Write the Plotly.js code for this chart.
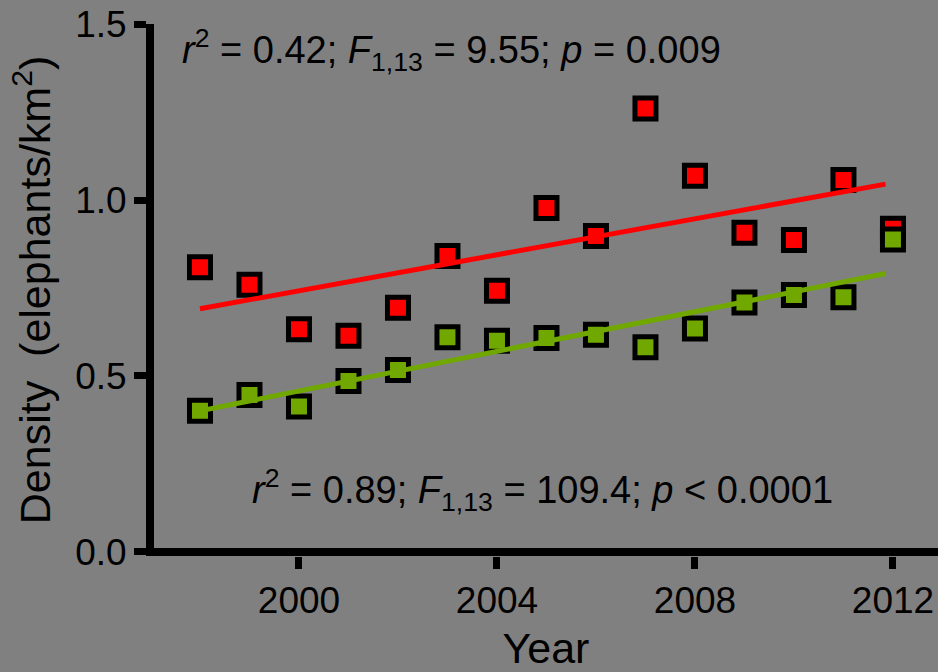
<!DOCTYPE html>
<html>
<head>
<meta charset="utf-8">
<script src="https://cdn.plot.ly/plotly-3.0.1.min.js"></script>
<style>html,body{margin:0;padding:0;background:#808080;}#chart{width:938px;height:672px;}</style>
</head>
<body>
<div id="chart"></div>
<script>
// Data
var years = [1998, 1999, 2000, 2001, 2002, 2003, 2004, 2005, 2006, 2007, 2008, 2009, 2010, 2011, 2012];
var redDensity = [0.809, 0.759, 0.633, 0.614, 0.694, 0.841, 0.742, 0.977, 0.898, 1.260, 1.069, 0.907, 0.886, 1.057, 0.918];
var greenDensity = [0.401, 0.446, 0.413, 0.486, 0.517, 0.610, 0.600, 0.608, 0.617, 0.582, 0.635, 0.709, 0.730, 0.724, 0.888];
var fitYears = [1998, 2011.85];
var redFit = [0.691, 1.045];
var greenFit = [0.401, 0.791];
var xTickVals = [2000, 2004, 2008, 2012];
var yTickVals = [0.0, 0.5, 1.0, 1.5];
var yTickText = ['0.0', '0.5', '1.0', '1.5'];
var redStats = '<i>r</i><sup>2</sup> = 0.42; <i>F</i><sub>1,13</sub> = 9.55; <i>p</i> = 0.009';
var greenStats = '<i>r</i><sup>2</sup> = 0.89; <i>F</i><sub>1,13</sub> = 109.4; <i>p</i> &lt; 0.0001';

var RED = '#ff0000', GREEN = '#70a800';
var FONT = 'Liberation Sans, Arial, sans-serif';

var traces = [
  {x: years, y: redDensity, type: 'scatter', mode: 'markers',
   marker: {symbol: 'square', size: 21, color: RED, line: {color: '#000', width: 5}}, cliponaxis: false},
  {x: years, y: greenDensity, type: 'scatter', mode: 'markers',
   marker: {symbol: 'square', size: 21, color: GREEN, line: {color: '#000', width: 5}}, cliponaxis: false},
  {x: fitYears, y: redFit, type: 'scatter', mode: 'lines', line: {color: RED, width: 5}},
  {x: fitYears, y: greenFit, type: 'scatter', mode: 'lines', line: {color: GREEN, width: 5}}
];

var layout = {
  width: 938, height: 672,
  paper_bgcolor: '#808080', plot_bgcolor: '#808080',
  showlegend: false,
  margin: {l: 154, r: 0, t: 24, b: 116, pad: 0},
  font: {family: FONT, color: '#000', size: 37},
  xaxis: {
    range: [1997.071, 2012.91],
    tickvals: xTickVals, ticks: 'outside', ticklen: 12, tickwidth: 7, tickcolor: '#000',
    showline: false, showgrid: false, zeroline: false,
    tickfont: {family: FONT, size: 37, color: '#000'},
    title: {text: 'Year', font: {family: FONT, size: 43, color: '#000'}, standoff: 15}
  },
  yaxis: {
    range: [-0.0114, 1.5],
    tickvals: yTickVals, ticktext: yTickText, ticks: 'outside', ticklen: 12, tickwidth: 7, tickcolor: '#000',
    showline: true, linecolor: '#000', linewidth: 8,
    showgrid: false, zeroline: true, zerolinecolor: '#000', zerolinewidth: 8,
    tickfont: {family: FONT, size: 37, color: '#000'},
    title: {text: 'Density  (elephants/km<sup>2</sup>)', font: {family: FONT, size: 43, color: '#000'}, standoff: 14}
  },
  annotations: [
    {xref: 'paper', yref: 'paper', x: 0.033, y: 0.951, xanchor: 'left', yanchor: 'middle',
     text: redStats, showarrow: false, font: {family: FONT, size: 38, color: '#000'}},
    {xref: 'paper', yref: 'paper', x: 0.122, y: 0.124, xanchor: 'left', yanchor: 'middle',
     text: greenStats, showarrow: false, font: {family: FONT, size: 38, color: '#000'}}
  ]
};

Plotly.newPlot('chart', traces, layout, {displayModeBar: false, staticPlot: true});
</script>
</body>
</html>
